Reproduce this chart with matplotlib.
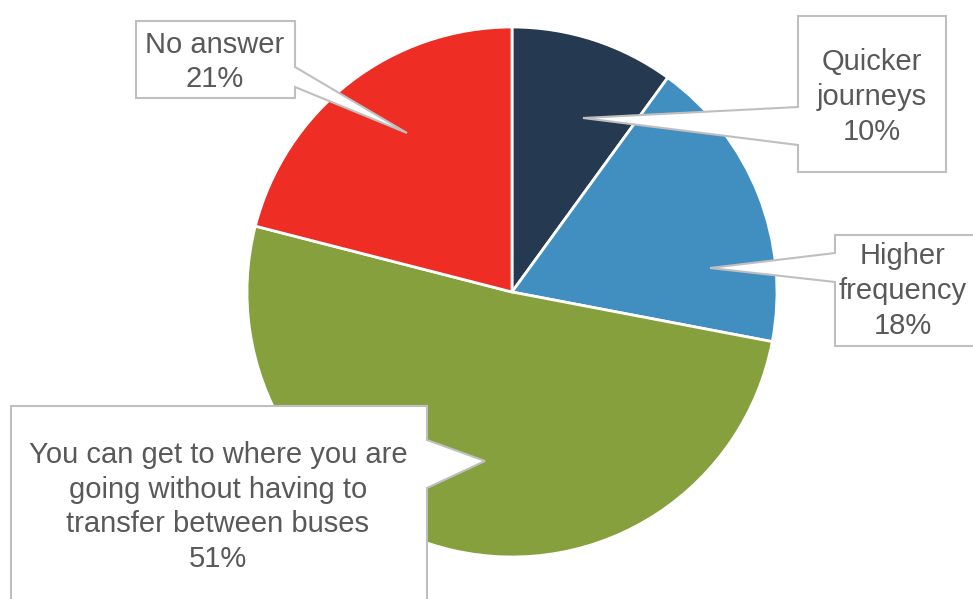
import matplotlib
matplotlib.use("Agg")
import matplotlib.pyplot as plt
from matplotlib.patches import Polygon

# ---- data ----
labels = ["Quicker\njourneys", "Higher\nfrequency",
          "You can get to where you are\ngoing without having to\ntransfer between buses",
          "No answer"]
values = [10, 18, 51, 21]
colors = ["#253A51", "#418FC0", "#87A03E", "#EE2D24"]

W, H = 973, 599
fig = plt.figure(figsize=(W / 100, H / 100), dpi=100)
ax = fig.add_axes([0, 0, 1, 1])


def P(x, y):
    """pixel (top-left origin) -> data coords"""
    return (x, H - y)


cx, cy = P(512, 292)
ax.pie(values, colors=colors, startangle=90, counterclock=False,
       center=(cx, cy), radius=265, frame=True,
       wedgeprops=dict(edgecolor="white", linewidth=2))
ax.set_xlim(0, W)
ax.set_ylim(0, H)
ax.set_aspect("equal")
ax.axis("off")

# callout layouts: box (x0, y0, x1, y1), pointer side, pointer base y-range, tip, text center
callouts = [
    # Quicker journeys
    dict(box=(798, 16, 946, 172), side="left", base=(107, 145), tip=(583, 118), tc=(872, 97)),
    # Higher frequency
    dict(box=(835, 235, 985, 346), side="left", base=(253, 282), tip=(710, 268), tc=(903, 291)),
    # You can get...
    dict(box=(11, 406, 427, 620), side="right", base=(440, 488), tip=(485, 461), tc=(218, 507)),
    # No answer
    dict(box=(136, 21, 295, 98), side="right", base=(67, 87), tip=(407, 133), tc=(215, 62)),
]

for lab, val, c in zip(labels, values, callouts):
    x0, y0, x1, y1 = c["box"]
    b0, b1 = c["base"]
    tx, ty = c["tip"]
    if c["side"] == "left":
        pts = [(x0, y0), (x1, y0), (x1, y1), (x0, y1), (x0, b1), (tx, ty), (x0, b0)]
    else:
        pts = [(x0, y0), (x1, y0), (x1, b0), (tx, ty), (x1, b1), (x1, y1), (x0, y1)]
    poly = Polygon([P(*p) for p in pts], closed=True, facecolor="white",
                   edgecolor="#BFBFBF", linewidth=1.5, zorder=5, clip_on=False)
    ax.add_patch(poly)
    ax.text(*P(*c["tc"]), f"{lab}\n{val}%", ha="center", va="center",
            fontsize=21, color="#595959", family=["Liberation Sans", "DejaVu Sans"],
            linespacing=1.3, zorder=6)

fig.savefig("out.png", dpi=100)
